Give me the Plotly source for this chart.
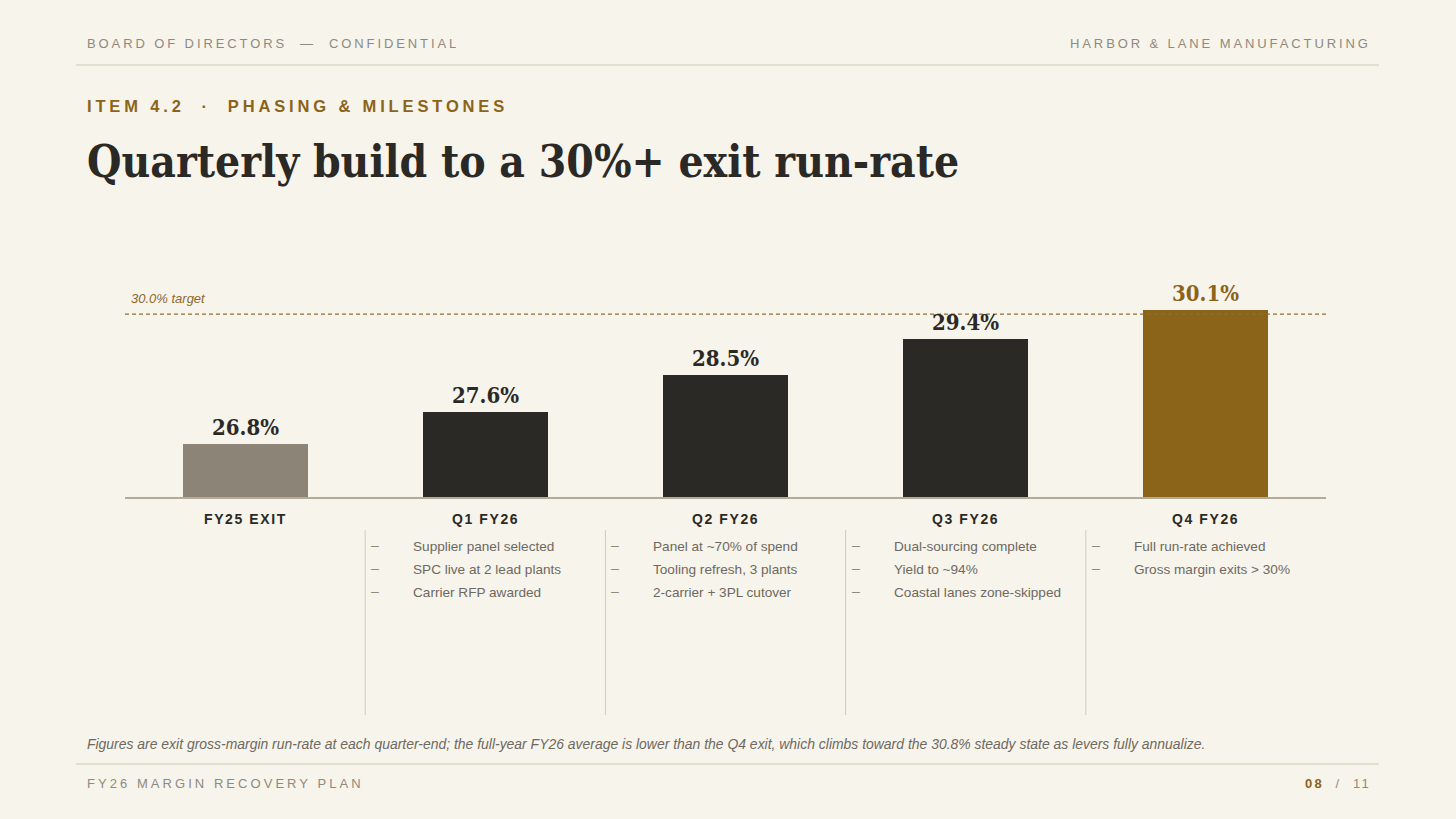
import plotly.graph_objects as go

# ---------------- data ----------------
categories = ["FY25 EXIT", "Q1 FY26", "Q2 FY26", "Q3 FY26", "Q4 FY26"]
margin_values = [26.8, 27.6, 28.5, 29.4, 30.1]
value_labels = ["26.8%", "27.6%", "28.5%", "29.4%", "30.1%"]
target_value = 30.0
target_label = "30.0% target"
milestones = [
    [],
    ["Supplier panel selected", "SPC live at 2 lead plants", "Carrier RFP awarded"],
    ["Panel at ~70% of spend", "Tooling refresh, 3 plants", "2-carrier + 3PL cutover"],
    ["Dual-sourcing complete", "Yield to ~94%", "Coastal lanes zone-skipped"],
    ["Full run-rate achieved", "Gross margin exits > 30%"],
]

# ---------------- style ----------------
BG = "#F7F4EC"
DARK = "#2B2925"
GOLD = "#8B6419"
TAUPE = "#8C8476"
GREY = "#8F8A7E"
BODY = "#6E6960"
RULE = "#D2CBB8"
bar_colors = [TAUPE, DARK, DARK, DARK, GOLD]
label_colors = [DARK, DARK, DARK, DARK, GOLD]

SANS = "Liberation Sans, Arial, sans-serif"
SERIF = "DejaVu Serif Condensed, DejaVu Serif, serif"

W, H = 1456, 819
ML, MR, MT, MB = 125, 130, 250, 322
PW = W - ML - MR
PH = H - MT - MB


def px_x(px):
    return (px - ML) / PW


def px_y(py):
    return (H - MB - py) / PH


def spaced(text, ls):
    return f'<span style="letter-spacing:{ls}px">{text}</span>'


fig = go.Figure()
fig.add_trace(go.Bar(
    x=list(range(len(categories))),
    y=margin_values,
    marker=dict(color=bar_colors, line=dict(width=0)),
    width=0.52,
    hoverinfo="skip",
))

annotations = []
shapes = []

# value labels
for i, (v, t) in enumerate(zip(margin_values, value_labels)):
    annotations.append(dict(
        x=i, y=v, xref="x", yref="y", text=f"<b>{t}</b>", showarrow=False,
        yanchor="bottom", xanchor="center", yshift=2,
        font=dict(family=SERIF, size=22, color=label_colors[i]),
    ))

# category labels
for i, c in enumerate(categories):
    annotations.append(dict(
        x=i, y=0, xref="x", yref="paper", text="<b>" + spaced(c, 1.6) + "</b>",
        showarrow=False, yanchor="middle", xanchor="center", yshift=-22,
        font=dict(family=SANS, size=14, color=DARK),
    ))

# milestones
row_y = [546, 569, 592]
for i, items in enumerate(milestones):
    if i == 0:
        continue
    shapes.append(dict(type="line", xref="x", yref="paper", x0=i - 0.5, x1=i - 0.5,
                       y0=px_y(530), y1=px_y(715), line=dict(color=RULE, width=1)))
    for r, item in enumerate(items):
        annotations.append(dict(
            x=i - 0.5, y=px_y(row_y[r]), xref="x", yref="paper", text="–",
            showarrow=False, xanchor="center", yanchor="middle", xshift=10, yshift=1,
            font=dict(family=SANS, size=14, color="#8F8A7E"),
        ))
        annotations.append(dict(
            x=i - 0.5, y=px_y(row_y[r]), xref="x", yref="paper", text=item,
            showarrow=False, xanchor="left", yanchor="middle", xshift=46,
            font=dict(family=SANS, size=13.6, color=BODY),
        ))

# target line
shapes.append(dict(type="line", xref="x", yref="y", x0=-0.5, x1=4.5,
                   y0=target_value, y1=target_value,
                   line=dict(color="#8F6E35", width=1.2, dash="4px,3px")))
annotations.append(dict(
    x=0, y=target_value, xref="paper", yref="y", text=f"<i>{target_label}</i>",
    showarrow=False, xanchor="left", yanchor="bottom", xshift=4, yshift=6,
    font=dict(family=SANS, size=13, color="#8B6A2B"),
))

# header / footer texts
annotations += [
    dict(x=px_x(85), y=px_y(44), xref="paper", yref="paper",
         text=spaced("BOARD OF DIRECTORS  —  CONFIDENTIAL", 2.9), showarrow=False,
         xanchor="left", yanchor="middle", font=dict(family=SANS, size=13, color=GREY)),
    dict(x=px_x(1373), y=px_y(44), xref="paper", yref="paper",
         text=spaced("HARBOR &amp; LANE MANUFACTURING", 2.9), showarrow=False,
         xanchor="right", yanchor="middle", font=dict(family=SANS, size=13, color=GREY)),
    dict(x=px_x(85), y=px_y(106), xref="paper", yref="paper",
         text="<b>" + spaced("ITEM 4.2  ·  PHASING &amp; MILESTONES", 3.85) + "</b>", showarrow=False,
         xanchor="left", yanchor="middle", font=dict(family=SANS, size=16.5, color=GOLD)),
    dict(x=px_x(85), y=px_y(161), xref="paper", yref="paper",
         text="<b>Quarterly build to a 30%+ exit run-rate</b>", showarrow=False,
         xanchor="left", yanchor="middle", font=dict(family=SERIF, size=44, color=DARK)),
    dict(x=px_x(85), y=px_y(744), xref="paper", yref="paper",
         text="<i>Figures are exit gross-margin run-rate at each quarter-end; the full-year FY26 average is lower than the Q4 exit, which climbs toward the 30.8% steady state as levers fully annualize.</i>",
         showarrow=False, xanchor="left", yanchor="middle",
         font=dict(family=SANS, size=13.95, color=BODY)),
    dict(x=px_x(85), y=px_y(783), xref="paper", yref="paper",
         text=spaced("FY26 MARGIN RECOVERY PLAN", 3.05), showarrow=False,
         xanchor="left", yanchor="middle", font=dict(family=SANS, size=13, color=GREY)),
    dict(x=px_x(1373), y=px_y(783), xref="paper", yref="paper",
         text=spaced(f'<b><span style="color:{GOLD}">08</span></b>  /  11', 2.2), showarrow=False,
         xanchor="right", yanchor="middle", font=dict(family=SANS, size=13, color=GREY)),
]

shapes += [
    dict(type="line", xref="paper", yref="paper", x0=px_x(76), x1=px_x(1379),
         y0=px_y(65), y1=px_y(65), line=dict(color="#CFC8B2", width=1.2)),
    dict(type="line", xref="paper", yref="paper", x0=px_x(76), x1=px_x(1379),
         y0=px_y(764), y1=px_y(764), line=dict(color="#CFC8B2", width=1.2)),
]

fig.update_layout(
    width=W, height=H,
    margin=dict(l=ML, r=MR, t=MT, b=MB, pad=0),
    paper_bgcolor=BG, plot_bgcolor=BG,
    showlegend=False,
    xaxis=dict(range=[-0.5, 4.5], showgrid=False, zeroline=False, showticklabels=False,
               ticks="", showline=True, linecolor="#B3AB96", linewidth=1.5, fixedrange=True),
    yaxis=dict(range=[25.5, 31.58], showgrid=False, zeroline=False, showticklabels=False,
               ticks="", showline=False, fixedrange=True),
    annotations=annotations,
    shapes=shapes,
    bargap=0,
)

fig.write_html(
    "out.html",
    config={"displayModeBar": False},
    post_script="document.body.style.margin='0';document.body.style.background='%s';" % BG,
)
